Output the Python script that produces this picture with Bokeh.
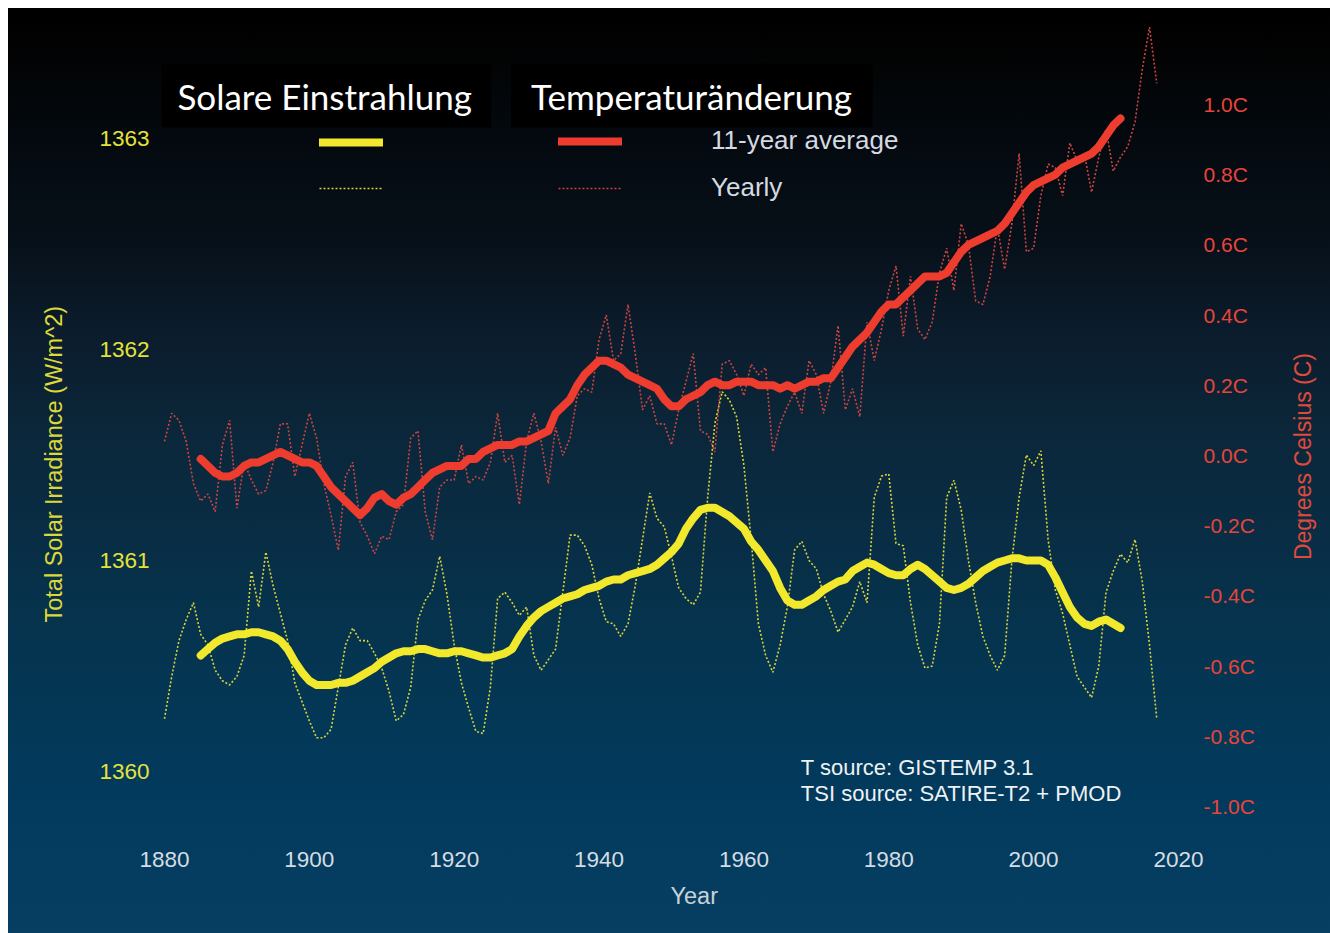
import math
from bokeh.plotting import figure
from bokeh.models import (Range1d, LinearAxis, FixedTicker, PrintfTickFormatter,
                          Legend, LegendItem, Label, BoxAnnotation, Title)
from bokeh.embed import file_html
from bokeh.resources import INLINE

# ---------------- data ----------------
years = list(range(1880, 2018))
avg_years = list(range(1885, 2013))

temp_yearly = [
    0.04, 0.12, 0.10, 0.04, -0.08, -0.13, -0.11, -0.16, 0.03, 0.10,
    -0.15, -0.02, -0.07, -0.11, -0.10, -0.02, 0.09, 0.09, -0.06, 0.03,
    0.12, 0.05, -0.08, -0.17, -0.27, -0.06, -0.02, -0.19, -0.23, -0.28,
    -0.23, -0.24, -0.16, -0.14, 0.05, 0.07, -0.16, -0.24, -0.09, -0.07,
    -0.07, 0.03, -0.08, -0.06, -0.07, -0.02, 0.12, -0.02, 0.00, -0.14,
    0.04, 0.12, 0.04, -0.08, 0.08, 0.00, 0.05, 0.17, 0.19, 0.18,
    0.33, 0.40, 0.27, 0.29, 0.43, 0.29, 0.13, 0.17, 0.09, 0.09,
    0.03, 0.13, 0.21, 0.29, 0.07, 0.06, 0.01, 0.26, 0.27, 0.23,
    0.17, 0.26, 0.23, 0.25, 0.01, 0.09, 0.14, 0.18, 0.12, 0.27,
    0.23, 0.12, 0.21, 0.37, 0.13, 0.19, 0.11, 0.38, 0.27, 0.36,
    0.47, 0.54, 0.34, 0.51, 0.36, 0.33, 0.38, 0.52, 0.59, 0.47,
    0.66, 0.60, 0.44, 0.43, 0.51, 0.65, 0.53, 0.66, 0.86, 0.58,
    0.59, 0.74, 0.83, 0.82, 0.74, 0.89, 0.84, 0.86, 0.75, 0.85,
    0.93, 0.81, 0.85, 0.88, 0.95, 1.10, 1.22, 1.06,
]

temp_avg = [
    -0.01, -0.03, -0.05, -0.06, -0.06,
    -0.05, -0.03, -0.02, -0.02, -0.01, 0.00, 0.01, 0.00, -0.01, -0.02,
    -0.02, -0.03, -0.06, -0.09, -0.11, -0.13, -0.15, -0.17, -0.15, -0.12,
    -0.11, -0.13, -0.14, -0.12, -0.11, -0.09, -0.07, -0.05, -0.04, -0.03,
    -0.03, -0.03, -0.01, -0.01, 0.01, 0.02, 0.03, 0.03, 0.03, 0.04,
    0.04, 0.05, 0.06, 0.07, 0.12, 0.14, 0.16, 0.20, 0.23, 0.25,
    0.27, 0.27, 0.26, 0.25, 0.23, 0.22, 0.21, 0.20, 0.19, 0.16,
    0.14, 0.14, 0.16, 0.17, 0.18, 0.20, 0.21, 0.20, 0.20, 0.21,
    0.21, 0.21, 0.20, 0.20, 0.20, 0.19, 0.20, 0.19, 0.20, 0.21,
    0.21, 0.22, 0.22, 0.25, 0.28, 0.31, 0.33, 0.35, 0.38, 0.41,
    0.43, 0.43, 0.45, 0.47, 0.49, 0.51, 0.51, 0.51, 0.52, 0.55,
    0.58, 0.60, 0.61, 0.62, 0.63, 0.64, 0.66, 0.69, 0.72, 0.75,
    0.77, 0.78, 0.79, 0.80, 0.82, 0.83, 0.84, 0.85, 0.86, 0.88,
    0.91, 0.94, 0.96,
]

tsi_yearly = [
    1360.25, 1360.45, 1360.62, 1360.72, 1360.80, 1360.65, 1360.60, 1360.48, 1360.43, 1360.41,
    1360.45, 1360.55, 1360.95, 1360.78, 1361.04, 1360.88, 1360.75, 1360.62, 1360.42, 1360.33,
    1360.24, 1360.16, 1360.16, 1360.20, 1360.40, 1360.60, 1360.68, 1360.62, 1360.62, 1360.56,
    1360.49, 1360.38, 1360.24, 1360.27, 1360.40, 1360.72, 1360.81, 1360.86, 1361.02, 1360.84,
    1360.60, 1360.42, 1360.30, 1360.19, 1360.18, 1360.40, 1360.82, 1360.85, 1360.80, 1360.74,
    1360.78, 1360.55, 1360.48, 1360.53, 1360.58, 1360.85, 1361.12, 1361.12, 1361.07, 1360.98,
    1360.82, 1360.71, 1360.70, 1360.64, 1360.70, 1360.88, 1361.10, 1361.32, 1361.20, 1361.16,
    1361.02, 1360.87, 1360.82, 1360.79, 1360.85, 1361.30, 1361.65, 1361.80, 1361.76, 1361.68,
    1361.45, 1361.10, 1360.70, 1360.55, 1360.47, 1360.60, 1360.78, 1361.05, 1361.09, 1361.00,
    1360.96, 1360.84, 1360.76, 1360.66, 1360.72, 1360.78, 1360.90, 1360.80, 1361.30, 1361.40,
    1361.41, 1361.08, 1361.07, 1360.80, 1360.60, 1360.49, 1360.50, 1360.70, 1361.30, 1361.38,
    1361.24, 1361.00, 1360.80, 1360.64, 1360.55, 1360.48, 1360.55, 1361.00, 1361.30, 1361.50,
    1361.45, 1361.52, 1361.10, 1360.86, 1360.75, 1360.60, 1360.45, 1360.40, 1360.35, 1360.50,
    1360.85, 1360.95, 1361.03, 1360.99, 1361.10, 1360.90, 1360.60, 1360.25,
]

tsi_avg = [
    1360.55, 1360.58, 1360.61, 1360.63, 1360.64,
    1360.65, 1360.65, 1360.66, 1360.66, 1360.65, 1360.64, 1360.62, 1360.58, 1360.52, 1360.47,
    1360.43, 1360.41, 1360.41, 1360.41, 1360.42, 1360.42, 1360.43, 1360.45, 1360.47, 1360.49,
    1360.52, 1360.54, 1360.56, 1360.57, 1360.57, 1360.58, 1360.58, 1360.57, 1360.56, 1360.56,
    1360.57, 1360.57, 1360.56, 1360.55, 1360.54, 1360.54, 1360.55, 1360.56, 1360.58, 1360.64,
    1360.69, 1360.73, 1360.76, 1360.78, 1360.80, 1360.82, 1360.83, 1360.84, 1360.86, 1360.87,
    1360.88, 1360.90, 1360.91, 1360.91, 1360.93, 1360.94, 1360.95, 1360.96, 1360.98, 1361.01,
    1361.04, 1361.08, 1361.15, 1361.20, 1361.24, 1361.25, 1361.25, 1361.23, 1361.21, 1361.18,
    1361.15, 1361.09, 1361.05, 1361.00, 1360.95, 1360.87, 1360.81, 1360.79, 1360.79, 1360.81,
    1360.83, 1360.86, 1360.88, 1360.90, 1360.91, 1360.95, 1360.97, 1360.99, 1360.98, 1360.96,
    1360.94, 1360.93, 1360.93, 1360.96, 1360.98, 1360.96, 1360.93, 1360.90, 1360.87, 1360.86,
    1360.87, 1360.89, 1360.92, 1360.95, 1360.97, 1360.99, 1361.00, 1361.01, 1361.01, 1361.00,
    1361.00, 1361.00, 1360.98, 1360.92, 1360.85, 1360.78, 1360.73, 1360.70, 1360.69, 1360.71,
    1360.72, 1360.70, 1360.68,
]

x_ticks = [1880, 1900, 1920, 1940, 1960, 1980, 2000, 2020]
tsi_ticks = [1360, 1361, 1362, 1363]
temp_ticks = [-1.0, -0.8, -0.6, -0.4, -0.2, 0.0, 0.2, 0.4, 0.6, 0.8, 1.0]

FONT = "Liberation Sans"
YELLOW = "#f3e92c"
YELLOW_DOT = "#d8d43c"
RED = "#ee3d2e"
RED_DOT = "#cc4440"

# ---------------- figure ----------------
p = figure(width=1322, height=925, output_backend="svg", toolbar_location=None,
           x_range=Range1d(1879.59, 2021.66), y_range=Range1d(1359.673, 1363.559),
           min_border_left=152, min_border_right=140, min_border_top=12, min_border_bottom=93,
           background_fill_alpha=0, border_fill_alpha=0, outline_line_alpha=0)
p.styles = {"margin-left": "8px", "margin-top": "8px",
            "background": "linear-gradient(to bottom, #000000 0%, #020202 4%, #03080d 12%, "
                          "#071019 25%, #0b1c2c 35%, #0b2639 45%, #092c43 55%, #06324c 65%, "
                          "#043755 75%, #023a5d 85%, #063f62 100%)"}
p.extra_y_ranges = {"temp": Range1d(-1.097, 1.239)}
p.grid.visible = False


def style_axis(ax, color, size, standoff):
    ax.axis_line_alpha = 0
    ax.major_tick_line_alpha = 0
    ax.minor_tick_line_alpha = 0
    ax.major_tick_out = 0
    ax.major_tick_in = 0
    ax.minor_tick_out = 0
    ax.minor_tick_in = 0
    ax.major_label_text_font = FONT
    ax.major_label_text_font_size = size
    ax.major_label_text_color = color
    ax.major_label_standoff = standoff


xa = p.xaxis[0]
xa.ticker = FixedTicker(ticks=x_ticks)
style_axis(xa, "#d5dce2", "22.5px", 11)

ya = p.yaxis[0]
ya.ticker = FixedTicker(ticks=tsi_ticks)
style_axis(ya, "#e4e23a", "22.5px", 12)

ra = LinearAxis(y_range_name="temp", ticker=FixedTicker(ticks=temp_ticks),
                formatter=PrintfTickFormatter(format="%.1fC"))
style_axis(ra, "#e6453a", "21px", 13)
p.add_layout(ra, "right")

# axis titles placed in the side panels
t_left = Title(text="Total Solar Irradiance (W/m^2)", align="left", vertical_align="bottom",
               offset=218, standoff=60, text_font=FONT, text_font_size="23.5px",
               text_font_style="normal", text_color="#dcd83a")
p.add_layout(t_left, "left")
t_below = Title(text="Year", align="left", vertical_align="top", offset=509, standoff=26,
                text_font=FONT, text_font_size="23.5px", text_font_style="normal",
                text_color="#c9d1d8")
p.add_layout(t_below, "below")
t_right = Label(x=45, y=384, x_units="screen", y_units="screen", text="Degrees Celsius (C)",
                text_font=FONT, text_font_size="23px", text_color="#e04a3a",
                angle=math.pi / 2, text_align="center", text_baseline="middle")
p.add_layout(t_right, "right")

# ---------------- lines ----------------
r_tsi_yr = p.line(years, tsi_yearly, line_color=YELLOW_DOT, line_width=1.6, line_dash="2 2")
r_tmp_yr = p.line(years, temp_yearly, y_range_name="temp", line_color=RED_DOT,
                  line_width=1.6, line_dash="2 2")
r_tsi_avg = p.line(avg_years, tsi_avg, line_color=YELLOW, line_width=8,
                   line_cap="round", line_join="round")
r_tmp_avg = p.line(avg_years, temp_avg, y_range_name="temp", line_color=RED, line_width=8,
                   line_cap="round", line_join="round")

# ---------------- legends ----------------
common = dict(glyph_width=64, glyph_height=30, label_height=30, spacing=16, padding=0, margin=0,
              border_line_alpha=0, background_fill_alpha=0, label_text_font=FONT,
              label_text_font_size="26px", label_text_color="#d4dae0")
leg_y = Legend(items=[LegendItem(label="", renderers=[r_tsi_avg]),
                      LegendItem(label="", renderers=[r_tsi_yr])],
               location=(158, 637), label_standoff=0, **common)
leg_r = Legend(items=[LegendItem(label="11-year average", renderers=[r_tmp_avg]),
                      LegendItem(label="Yearly", renderers=[r_tmp_yr])],
               location=(397, 637), label_standoff=89, **common)
p.add_layout(leg_y)
p.add_layout(leg_r)

# ---------------- header boxes ----------------
p.add_layout(BoxAnnotation(left=1879.31, right=1925.10, bottom=1363.052, top=1363.355,
                           fill_color="black", fill_alpha=1, line_color=None))
p.add_layout(BoxAnnotation(left=1927.86, right=1977.79, bottom=1363.052, top=1363.355,
                           fill_color="black", fill_alpha=1, line_color=None))
p.add_layout(Label(x=1881.79, y=1363.199, text="Solare Einstrahlung", text_font="Lato",
                   text_font_size="35px", text_color="#ffffff", text_baseline="middle"))
p.add_layout(Label(x=1930.62, y=1363.199, text="Temperaturänderung", text_font="Lato",
                   text_font_size="35px", text_color="#ffffff", text_baseline="middle"))

# ---------------- source notes ----------------
p.add_layout(Label(x=1967.86, y=1360.019, text="T source: GISTEMP 3.1", text_font=FONT,
                   text_font_size="22px", text_color="#eef2f5", text_baseline="middle"))
p.add_layout(Label(x=1967.86, y=1359.896, text="TSI source: SATIRE-T2 + PMOD", text_font=FONT,
                   text_font_size="22px", text_color="#eef2f5", text_baseline="middle"))

open("out.html", "w").write(file_html(p, INLINE))
